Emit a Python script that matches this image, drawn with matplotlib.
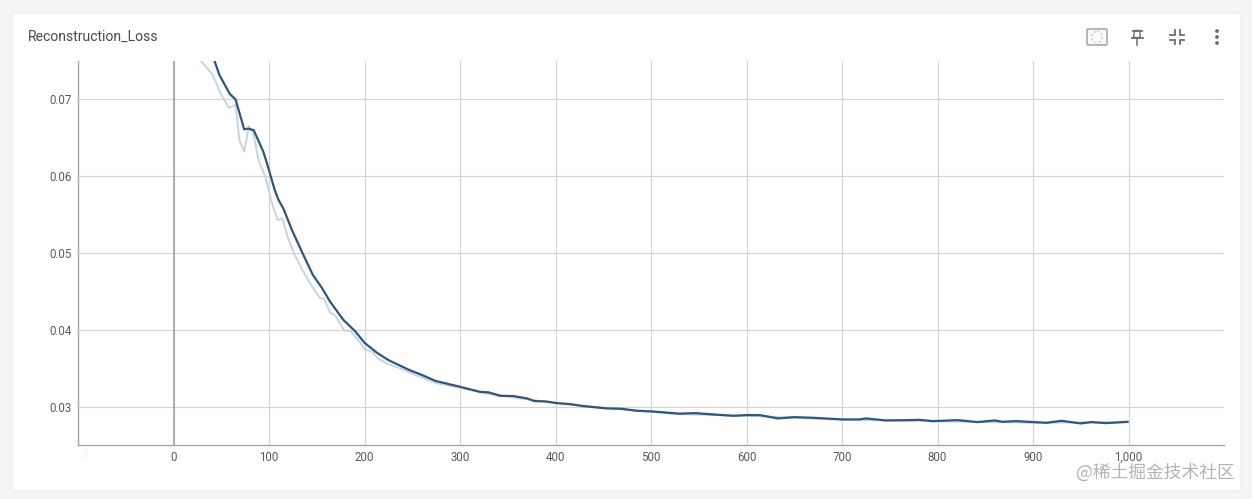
import matplotlib.pyplot as plt
from matplotlib.patches import FancyBboxPatch, Circle, Polygon

plt.rcParams['font.family'] = ['Roboto', 'Noto Sans CJK SC', 'DejaVu Sans']

title = "Reconstruction_Loss"
watermark = "@稀土掘金技术社区"

x_ticks = [0, 100, 200, 300, 400, 500, 600, 700, 800, 900, 1000]
x_labels = ["0", "100", "200", "300", "400", "500", "600", "700", "800", "900", "1,000"]
y_ticks = [0.03, 0.04, 0.05, 0.06, 0.07]
y_labels = ["0.03", "0.04", "0.05", "0.06", "0.07"]

# smoothed curve
smooth_steps = [43, 48, 59, 65, 74, 78, 84, 94, 99, 106, 110, 115, 124, 136, 146, 155, 164, 178,
                190, 200, 213, 225, 247, 258, 274, 300, 321, 330, 342, 356, 370, 378, 389, 401,
                415, 429, 453, 469, 485, 500, 513, 530, 546, 565, 586, 600, 614, 633, 650, 670,
                701, 718, 725, 746, 771, 781, 795, 821, 842, 860, 868, 882, 914, 930, 950, 961,
                977, 999]
smooth_values = [0.0750, 0.0732, 0.0707, 0.0700, 0.0661, 0.0662, 0.0660, 0.0632, 0.0612, 0.0582,
                 0.0569, 0.0558, 0.0530, 0.04974, 0.04713, 0.04553, 0.04366, 0.04127,
                 0.03984, 0.03831, 0.03701, 0.03606, 0.03476, 0.03423, 0.03336, 0.03258,
                 0.03192, 0.03185, 0.03141, 0.03137, 0.03107, 0.03072, 0.03068, 0.03046,
                 0.03033, 0.03007, 0.02977, 0.02972, 0.02946, 0.02938, 0.02925, 0.02908,
                 0.02915, 0.02898, 0.0288, 0.02889, 0.02889, 0.02846, 0.02863, 0.02854,
                 0.02833, 0.02833, 0.02846, 0.0282, 0.02824, 0.02828, 0.02811, 0.02824,
                 0.02798, 0.0282, 0.02802, 0.02811, 0.02789, 0.02815, 0.02781, 0.02798,
                 0.02785, 0.02802]

# raw curve, lighter, sits just under the smoothed one
raw_steps = [29, 41, 50, 58, 65, 69, 74, 79, 84, 89, 96, 103, 109, 114, 120, 127, 135, 144, 153,
             158, 164, 169, 179, 185, 195, 200, 208, 214, 223, 237, 250, 274, 300, 330, 370, 415,
             470, 530, 600, 700, 800, 900, 999]
raw_values = [0.0750, 0.0732, 0.0706, 0.0689, 0.0693, 0.0647, 0.0632, 0.0665, 0.0654, 0.0621,
              0.0600, 0.0565, 0.0543, 0.0545, 0.0519, 0.04974, 0.04778, 0.04583, 0.04418,
              0.0440, 0.04222, 0.04192, 0.03988, 0.03988, 0.03845, 0.03745, 0.03714, 0.03628,
              0.03563, 0.0350, 0.0343, 0.0331, 0.03245, 0.03165, 0.03095, 0.03025, 0.02962,
              0.02900, 0.02882, 0.02828, 0.02808, 0.02790, 0.02796]

PAGE = "#f3f5f6"
GRID = "#d4d4d4"
AXIS = "#a8a8a8"
TEXT = "#5a5a5a"
ICON = "#6e6e6e"

fig = plt.figure(figsize=(12.52, 4.99), dpi=100, facecolor=PAGE)

# pixel-space layer for the card and toolbar icons
bg = fig.add_axes([0, 0, 1, 1], zorder=0)
bg.set_xlim(0, 1252)
bg.set_ylim(499, 0)
bg.axis("off")
bg.add_patch(FancyBboxPatch((12, 13), 1229, 478, boxstyle="round,pad=0,rounding_size=4",
                            facecolor="white", edgecolor="#eceeef", linewidth=0.8))
bg.text(28, 37, title, fontsize=10.1, color="#4a4a4a", va="center", ha="left")
bg.text(1155.5, 472, watermark, fontsize=12.8, color="#b4b4b4", va="center", ha="center",
        family=['Noto Sans CJK SC', 'DejaVu Sans'])
bg.text(84, 455, "0", fontsize=8, color="#f3f3f3", va="center", ha="center")

# toolbar icons
bg.add_patch(FancyBboxPatch((1087, 29), 20, 16, boxstyle="round,pad=0,rounding_size=1.5",
                            facecolor="#fafafa", edgecolor="#b4b4b4", linewidth=1.4))
bg.add_patch(Circle((1097, 37), 5.5, fill=False, edgecolor="#c4c4c4", linewidth=0.8, linestyle=(0, (2, 2))))
bg.plot([1132.5, 1141.5], [30.5, 30.5], color=ICON, linewidth=1.3)
bg.add_patch(Polygon([(1134.5, 30.5), (1139.5, 30.5), (1140.5, 37.5), (1133.5, 37.5)],
                     facecolor="white", edgecolor=ICON, linewidth=1.0))
bg.plot([1131.5, 1142.5], [38, 38], color=ICON, linewidth=1.3)
bg.plot([1137, 1137], [38, 44.5], color=ICON, linewidth=1.1)
for sx, sy in [(-1, -1), (1, -1), (-1, 1), (1, 1)]:
    cx, cy = 1177 + sx * 2.5, 37 + sy * 2.5
    bg.plot([cx + sx * 4.5, cx, cx], [cy, cy, cy + sy * 4.5], color=ICON, linewidth=1.3, solid_joinstyle="miter")
for dot_y in [31, 37, 43]:
    bg.add_patch(Circle((1217, dot_y), 1.9, facecolor=ICON, edgecolor="none"))

# px: left 78, right 1224, top 61, bottom 445
ax = fig.add_axes([78 / 1252, 1 - 445 / 499, (1224 - 78) / 1252, (445 - 61) / 499], zorder=1)
ax.patch.set_alpha(0)
ax.set_xlim(-100, 1100)
ax.set_ylim(0.025, 0.075)

ax.set_xticks([-100] + x_ticks + [1100])
ax.set_xticklabels([""] + x_labels + [""])
ax.set_yticks(y_ticks)
ax.set_yticklabels(y_labels)
ax.tick_params(axis="both", length=0, labelsize=8.3, labelcolor=TEXT)
ax.tick_params(axis="x", pad=4)
ax.tick_params(axis="y", pad=4.5)
ax.grid(True, color=GRID, linewidth=0.85)
ax.set_axisbelow(True)

for side in ["top", "right"]:
    ax.spines[side].set_visible(False)
for side in ["left", "bottom"]:
    ax.spines[side].set_color(AXIS)
    ax.spines[side].set_linewidth(1.0)
ax.axvline(0, color=AXIS, linewidth=1.3, zorder=1)

ax.plot(raw_steps, raw_values, color="#c6d4e3", linewidth=1.4, zorder=3)
ax.plot(smooth_steps, smooth_values, color="#2f5680", linewidth=1.6, zorder=4)

fig.savefig("out.png", dpi=100, facecolor=fig.get_facecolor())
